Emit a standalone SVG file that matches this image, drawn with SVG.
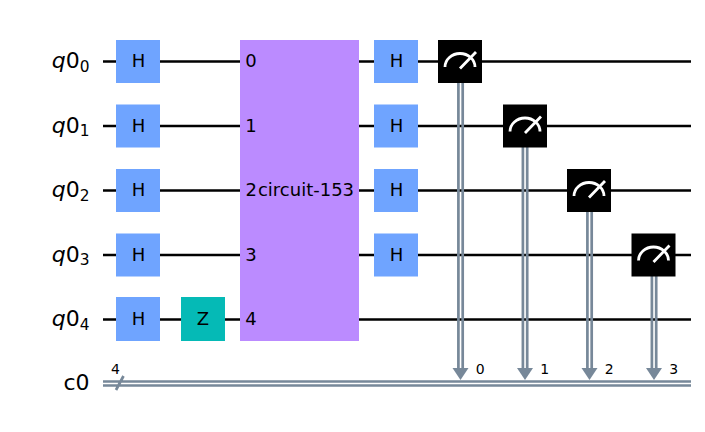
<svg xmlns="http://www.w3.org/2000/svg" width="705" height="432" viewBox="0 0 705 432">
<style>
text{font-family:"DejaVu Sans",sans-serif;fill:#000}
.g{font-size:18px;text-anchor:middle}
.idx{font-size:18px}
.lab{font-size:22px;text-anchor:end}
.sub{font-size:15.400px}
.small{font-size:14px}
.w{stroke:#000;stroke-width:2.7;fill:none}
.c{stroke:#778899;stroke-width:2.7;fill:none}
.h{fill:#6fa4ff}
.m{stroke:#fff;stroke-width:2.8;fill:none}
</style>
<defs>
<g id="meter">
<rect x="-22" y="-21.500" width="44" height="43" fill="#000"/>
<path class="m" d="M-15 5.500A15 13.500 0 0 1 15 5.500M0 7L16 -9.500"/>
</g>
<path id="arrow" d="M-8 -13H8L0 -1Z" fill="#778899"/>
</defs>
<rect width="705" height="432" fill="#fff"/>
<g id="connectors">
<path class="w" d="M103 61.500H691M103 126H691M103 190.500H691M103 255H691M103 319.500H691"/>
<path class="c" d="M103 381.500H691M103 385.500H691M116 390L123.500 376"/>
<path class="c" d="M458.400 83V369M462.700 83V369M522.900 147V369M527.200 147V369M587.400 212V369M591.700 212V369M651.900 276V369M656.200 276V369"/>
<use href="#arrow" x="460.500" y="381"/>
<use href="#arrow" x="525" y="381"/>
<use href="#arrow" x="589.500" y="381"/>
<use href="#arrow" x="654" y="381"/>
</g>
<g id="label-q00"><text class="lab" x="89.500" y="68"><tspan font-style="italic">q</tspan><tspan>0</tspan><tspan class="sub" dy="3.500">0</tspan></text></g>
<g id="label-q01"><text class="lab" x="89.500" y="132.500"><tspan font-style="italic">q</tspan><tspan>0</tspan><tspan class="sub" dy="3.500">1</tspan></text></g>
<g id="label-q02"><text class="lab" x="89.500" y="197"><tspan font-style="italic">q</tspan><tspan>0</tspan><tspan class="sub" dy="3.500">2</tspan></text></g>
<g id="label-q03"><text class="lab" x="89.500" y="261.500"><tspan font-style="italic">q</tspan><tspan>0</tspan><tspan class="sub" dy="3.500">3</tspan></text></g>
<g id="label-q04"><text class="lab" x="89.500" y="326"><tspan font-style="italic">q</tspan><tspan>0</tspan><tspan class="sub" dy="3.500">4</tspan></text></g>
<g id="label-c0"><text class="lab" x="89.500" y="390">c0</text></g>
<g id="h0"><rect class="h" x="116" y="40" width="44" height="43"/><text class="g" x="138.500" y="67.300">H</text></g>
<g id="h1"><rect class="h" x="116" y="104.500" width="44" height="43"/><text class="g" x="138.500" y="131.800">H</text></g>
<g id="h2"><rect class="h" x="116" y="169" width="44" height="43"/><text class="g" x="138.500" y="196.300">H</text></g>
<g id="h3"><rect class="h" x="116" y="233.500" width="44" height="43"/><text class="g" x="138.500" y="260.800">H</text></g>
<g id="h4"><rect class="h" x="116" y="297" width="44" height="44"/><text class="g" x="138.500" y="325.300">H</text></g>
<g id="z4"><rect x="181" y="297" width="44" height="44" fill="#05bab6"/><text class="g" x="203" y="325.300">Z</text></g>
<g id="circuit">
<rect x="240" y="40" width="119" height="301" fill="#bb8bff"/>
<text class="idx" x="245.200" y="67.300">0</text>
<text class="idx" x="245.200" y="131.800">1</text>
<text class="idx" x="245.500" y="196.300">2</text>
<text class="idx" x="245.200" y="260.800">3</text>
<text class="idx" x="245.200" y="325.300">4</text>
<text class="g" x="306" y="196.300">circuit-153</text>
</g>
<g id="h5"><rect class="h" x="374" y="40" width="44" height="43"/><text class="g" x="396.500" y="67.300">H</text></g>
<g id="h6"><rect class="h" x="374" y="104.500" width="44" height="43"/><text class="g" x="396.500" y="131.800">H</text></g>
<g id="h7"><rect class="h" x="374" y="169" width="44" height="43"/><text class="g" x="396.500" y="196.300">H</text></g>
<g id="h8"><rect class="h" x="374" y="233.500" width="44" height="43"/><text class="g" x="396.500" y="260.800">H</text></g>
<g id="m0"><use href="#meter" x="460" y="61.500"/></g>
<g id="m1"><use href="#meter" x="525" y="126"/></g>
<g id="m2"><use href="#meter" x="589" y="190.500"/></g>
<g id="m3"><use href="#meter" x="653.500" y="255"/></g>
<g id="bus-labels">
<text class="small" x="111" y="374">4</text>
<text class="small" x="475.700" y="374">0</text>
<text class="small" x="540.300" y="374">1</text>
<text class="small" x="604.700" y="374">2</text>
<text class="small" x="669.200" y="374">3</text>
</g>
</svg>
